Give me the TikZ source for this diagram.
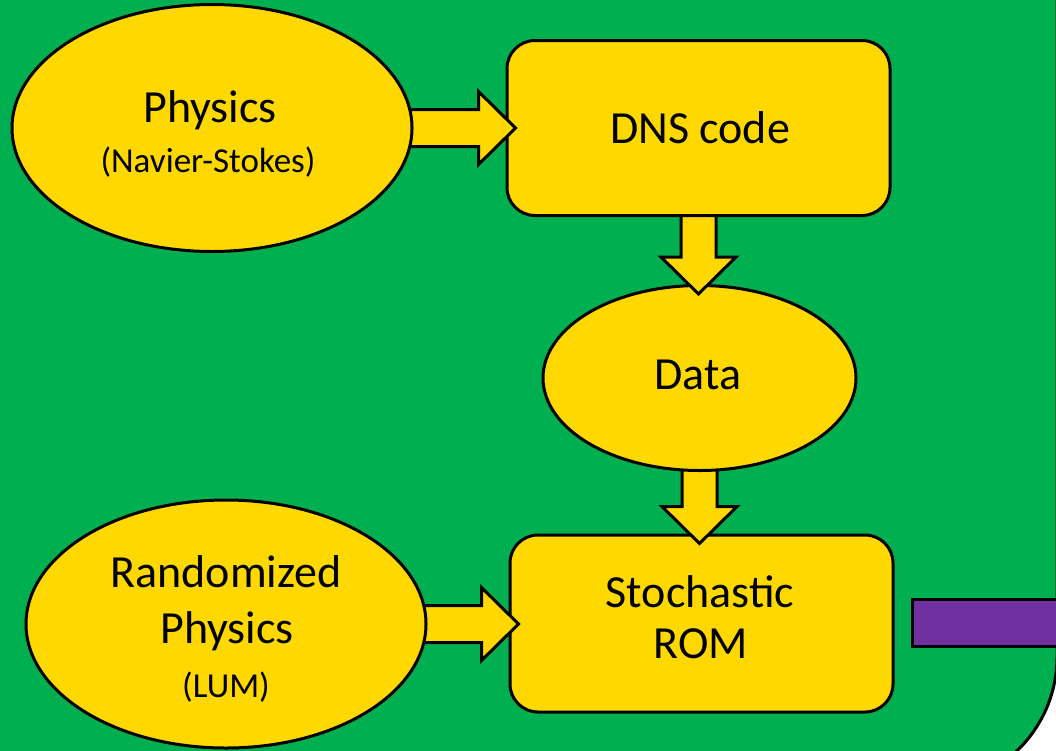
\documentclass[tikz,border=0pt]{standalone}
\usepackage{fontspec}
\setmainfont{Carlito}
\usetikzlibrary{shapes.geometric,calc}
\definecolor{bggreen}{HTML}{00B050}
\definecolor{boxyellow}{HTML}{FFD800}
\definecolor{barpurple}{HTML}{7030A0}
\pgfdeclarelayer{bgl}
\pgfdeclarelayer{lrom}
\pgfdeclarelayer{larrA}
\pgfdeclarelayer{ldata}
\pgfdeclarelayer{larrB}
\pgfdeclarelayer{ldns}
\pgfdeclarelayer{larrC}
\pgfsetlayers{bgl,lrom,larrA,ldata,larrB,ldns,larrC,main}
\newcommand\harrow[2]{\draw[barrow] let \p1=(#1), \p2=(#2) in
 (\x1-12pt,\y1+18.5pt) -- (\x2-27pt,\y1+18.5pt) -- (\x2-27pt,\y1+36.5pt) -- (\x2+10pt,\y1)
 -- (\x2-27pt,\y1-36.5pt) -- (\x2-27pt,\y1-18.5pt) -- (\x1-12pt,\y1-18.5pt);}
\newcommand\varrow[2]{\draw[barrow] let \p1=(#1), \p2=(#2) in
 (\x1-17.5pt,\y1+12pt) -- (\x1-17.5pt,\y2+27pt) -- (\x1-37.5pt,\y2+27pt) -- (\x1,\y2-10pt)
 -- (\x1+37.5pt,\y2+27pt) -- (\x1+17.5pt,\y2+27pt) -- (\x1+17.5pt,\y1+12pt);}
\begin{document}
\begin{tikzpicture}[x=1pt,y=-1pt,
  shapeline/.style={draw=black,line width=3pt,fill=boxyellow},
  oval/.style={shapeline,ellipse,inner sep=0pt},
  box/.style={shapeline,rectangle,rounded corners=28pt,inner sep=0pt,minimum width=383pt},
  barrow/.style={draw=black,line width=3pt,fill=boxyellow,line join=miter},
  big/.style={font=\fontsize{46}{55}\selectfont,inner sep=0pt,anchor=base},
  small/.style={font=\fontsize{35}{42}\selectfont,inner sep=0pt,anchor=base}]
\useasboundingbox (0,0) rectangle (1056,750);
\begin{pgfonlayer}{bgl}
\fill[white] (0,0) rectangle (1056,750);
\draw[fill=bggreen,line width=3pt,rounded corners=130pt] (-300,-300) rectangle (1057,787);
\draw[fill=barpurple,line width=3pt] (912,599) rectangle (1075,646);
\end{pgfonlayer}
\begin{pgfonlayer}{lrom}
\node[box,minimum height=177pt] (rom) at (701.5,623.5) {};
\end{pgfonlayer}
\begin{pgfonlayer}{ldata}
\node[oval,minimum width=313pt,minimum height=185pt] (data) at (699.5,378) {};
\end{pgfonlayer}
\begin{pgfonlayer}{ldns}
\node[box,minimum height=175pt] (dns) at (698.5,128) {};
\end{pgfonlayer}
\node[oval,minimum width=400pt,minimum height=247pt] (phys) at (212,128) {};
\node[oval,minimum width=400pt,minimum height=248pt] (rand) at (226,624) {};
\begin{pgfonlayer}{larrA}
\varrow{data.south}{rom.north}
\harrow{rand.east}{rom.west}
\end{pgfonlayer}
\begin{pgfonlayer}{larrB}
\varrow{dns.south}{data.north}
\end{pgfonlayer}
\begin{pgfonlayer}{larrC}
\harrow{phys.east}{dns.west}
\end{pgfonlayer}
\node[big] (tphys) at (210,122) {Physics};
\node[small] (tns) at (208,172) {(Navier-Stokes)};
\node[big] (tdns) at (700,143) {DNS code};
\node[big] (tdata) at (698,389) {Data};
\node[big] (trand) at (226,587) {Randomized};
\node[big] (trphys) at (227,643) {Physics};
\node[small] (tlum) at (226,697) {(LUM)};
\node[big] (tsto) at (700,607) {Stochastic};
\node[big] (trom) at (701,658) {ROM};
\end{tikzpicture}
\end{document}
